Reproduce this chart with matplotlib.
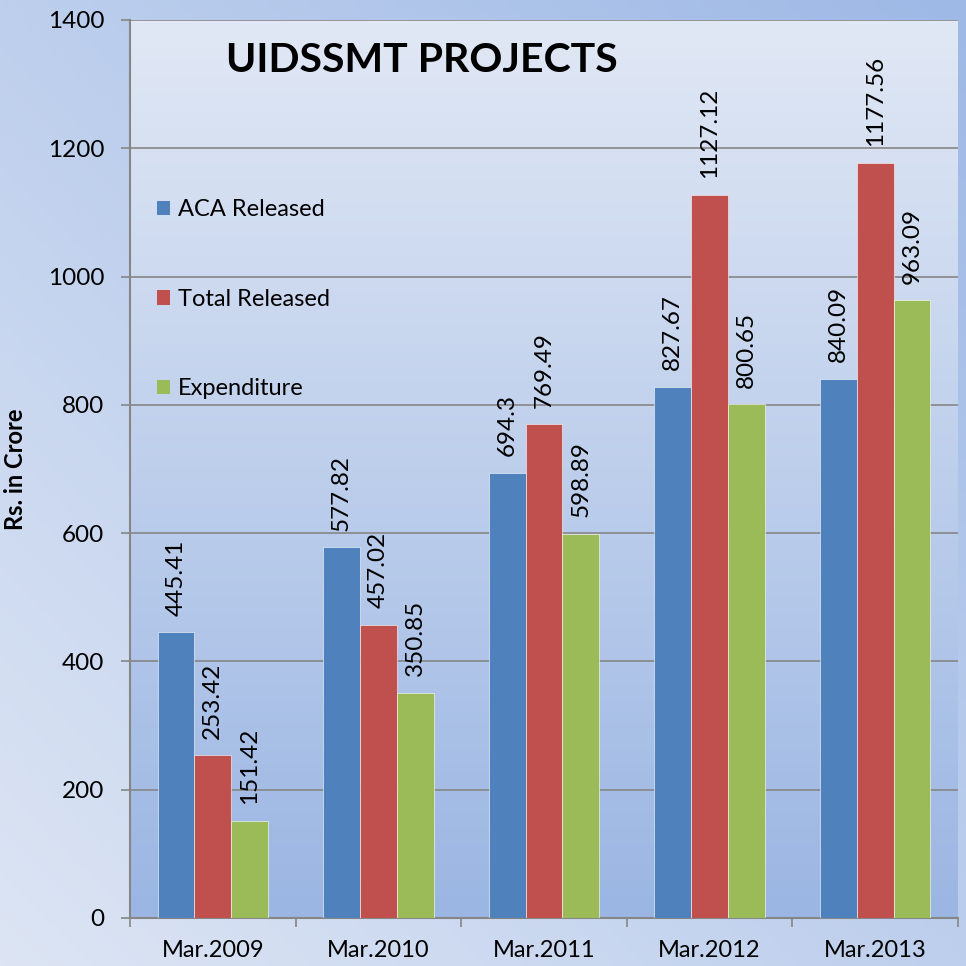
import numpy as np
import matplotlib
matplotlib.use("Agg")
import matplotlib.pyplot as plt
from matplotlib.patches import Patch
from matplotlib.colors import to_rgb

# Данные
categories = ["Mar.2009", "Mar.2010", "Mar.2011", "Mar.2012", "Mar.2013"]
aca_released = [445.41, 577.82, 694.3, 827.67, 840.09]
total_released = [253.42, 457.02, 769.49, 1127.12, 1177.56]
expenditure = [151.42, 350.85, 598.89, 800.65, 963.09]

series = [
    ("ACA Released", aca_released, "#4F81BD"),
    ("Total Released", total_released, "#C0504D"),
    ("Expenditure", expenditure, "#9BBB59"),
]

plt.rcParams["font.family"] = ["Lato", "DejaVu Sans"]

fig = plt.figure(figsize=(9.66, 9.66), dpi=100)

# Фон рисунка - диагональный градиент
bg = fig.add_axes([0, 0, 1, 1], zorder=-10)
n = 200
xx, yy = np.meshgrid(np.linspace(0, 1, n), np.linspace(0, 1, n))
t = 0.5 * (xx + yy)  # yy: 0 снизу, 1 сверху (origin='lower')
light = np.array(to_rgb("#DDE5F4"))
dark = np.array(to_rgb("#9EB9E6"))
img = light[None, None, :] * (1 - t[..., None]) + dark[None, None, :] * t[..., None]
bg.imshow(img, origin="lower", extent=[0, 1, 0, 1], aspect="auto")
bg.axis("off")

ax = fig.add_axes([130 / 966, 1 - 918 / 966, 828 / 966, 898 / 966])
ax.set_facecolor("none")

# Фон области построения - вертикальный градиент
top_c = np.array(to_rgb("#E1E8F5"))
bot_c = np.array(to_rgb("#9BB6E3"))
s = np.linspace(0, 1, 256)[:, None]
grad = bot_c[None, :] * (1 - s) + top_c[None, :] * s
ax.imshow(grad[:, None, :], origin="lower", extent=[-0.5, 4.5, 0, 1400],
          aspect="auto", zorder=0)

x = np.arange(len(categories))
w = 1 / 4.5
for i, (name, vals, color) in enumerate(series):
    pos = x + (i - 1) * w
    bars = ax.bar(pos, vals, width=w, color=color, edgecolor="#FFFFFF",
                  linewidth=0.4, label=name, zorder=3)
    for b, v in zip(bars, vals):
        ax.annotate(f"{v:g}", (b.get_x() + b.get_width() / 2, v),
                    xytext=(0, 12), textcoords="offset points",
                    rotation=90, ha="center", va="bottom", fontsize=17.5, zorder=4)

ax.set_xlim(-0.5, 4.5)
ax.set_ylim(0, 1400)
ax.set_yticks(np.arange(0, 1401, 200))
ax.yaxis.grid(True, color="#868686", linewidth=1.2, zorder=1)
ax.set_axisbelow(True)

ax.set_xticks(np.arange(-0.5, 5, 1))
ax.set_xticklabels([])
ax.set_xticks(x, minor=True)
ax.set_xticklabels(categories, minor=True, fontsize=17)
ax.tick_params(axis="x", which="major", length=6.5, width=1.2, color="#868686")
ax.tick_params(axis="x", which="minor", length=0, pad=16)
ax.tick_params(axis="y", length=6.5, width=1.2, color="#868686", pad=12, labelsize=17.5)

for sp in ["top", "right"]:
    ax.spines[sp].set_visible(False)
for sp in ["left", "bottom"]:
    ax.spines[sp].set_color("#868686")
    ax.spines[sp].set_linewidth(1.5)

ax.set_ylabel("Rs. in Crore", fontsize=17, fontweight="bold")
ax.yaxis.set_label_coords(-0.124, 0.5)

ax.text(0.353, 0.955, "UIDSSMT PROJECTS", transform=ax.transAxes,
        ha="center", va="center", fontsize=29.5, fontweight="bold", zorder=5)

handles = [Patch(facecolor=c, edgecolor="none") for _, _, c in series]
ax.legend(handles, [nm for nm, _, _ in series], loc="center left",
          bbox_to_anchor=(0.0326, 0.689), frameon=False, fontsize=17,
          handlelength=0.55, handleheight=0.55, handletextpad=0.35,
          labelspacing=2.9, borderpad=0, borderaxespad=0)

fig.savefig("out.png", dpi=100)
